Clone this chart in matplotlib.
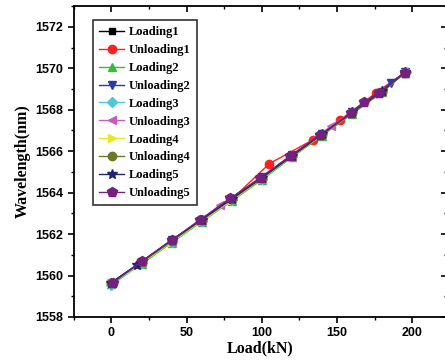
import numpy as np
import matplotlib.pyplot as plt
from matplotlib.ticker import MultipleLocator

# ---- data ----
labels = ['Loading1', 'Unloading1', 'Loading2', 'Unloading2', 'Loading3',
          'Unloading3', 'Loading4', 'Unloading4', 'Loading5', 'Unloading5']

x_load1 = [0, 20, 40, 60, 80, 100, 120, 140, 160, 180, 195]
y_load1 = [1559.65, 1560.62, 1561.65, 1562.66, 1563.66, 1564.70, 1565.76, 1566.80, 1567.85, 1568.88, 1569.78]

x_unload1 = [195, 176, 152, 134, 105, 80, 60, 40, 18, 0]
y_unload1 = [1569.80, 1568.82, 1567.50, 1566.55, 1565.40, 1563.68, 1562.70, 1561.66, 1560.55, 1559.62]

x_load2 = [0, 20, 40, 60, 80, 100, 120, 140, 160, 180, 195]
y_load2 = [1559.60, 1560.55, 1561.58, 1562.60, 1563.60, 1564.62, 1565.70, 1566.75, 1567.80, 1568.85, 1569.78]

x_unload2 = [195, 186, 160, 140, 120, 100, 80, 60, 40, 20, 0]
y_unload2 = [1569.80, 1569.30, 1567.90, 1566.85, 1565.80, 1564.75, 1563.70, 1562.68, 1561.72, 1560.66, 1559.65]

x_load3 = [0, 20, 40, 60, 80, 100, 120, 140, 160, 180, 196]
y_load3 = [1559.52, 1560.60, 1561.62, 1562.65, 1563.65, 1564.68, 1565.75, 1566.85, 1567.88, 1568.90, 1569.82]

x_unload3 = [195, 180, 146, 120, 100, 72, 60, 40, 20, 0]
y_unload3 = [1569.78, 1568.90, 1567.20, 1565.78, 1564.72, 1563.40, 1562.68, 1561.68, 1560.65, 1559.66]

x_load4 = [0, 20, 40, 60, 80, 100, 120, 140, 160, 180, 195]
y_load4 = [1559.62, 1560.60, 1561.63, 1562.64, 1563.64, 1564.68, 1565.74, 1566.78, 1567.84, 1568.86, 1569.76]

x_unload4 = [195, 180, 160, 140, 120, 100, 80, 60, 40, 20, 0]
y_unload4 = [1569.78, 1568.85, 1567.82, 1566.80, 1565.76, 1564.70, 1563.68, 1562.68, 1561.66, 1560.64, 1559.64]

x_load5 = [0, 17, 40, 60, 80, 100, 120, 140, 160, 180, 195]
y_load5 = [1559.66, 1560.52, 1561.70, 1562.70, 1563.70, 1564.72, 1565.78, 1566.82, 1567.88, 1568.90, 1569.80]

x_unload5 = [195, 178, 168, 159, 139, 119, 99, 79, 59, 40, 20, 1]
y_unload5 = [1569.78, 1568.82, 1568.35, 1567.82, 1566.80, 1565.78, 1564.72, 1563.72, 1562.70, 1561.70, 1560.68, 1559.66]

xs = [x_load1, x_unload1, x_load2, x_unload2, x_load3,
      x_unload3, x_load4, x_unload4, x_load5, x_unload5]
ys = [y_load1, y_unload1, y_load2, y_unload2, y_load3,
      y_unload3, y_load4, y_unload4, y_load5, y_unload5]

colors = ['#000000', '#ff2020', '#3cb83c', '#2a3aa8', '#4cc8dc',
          '#c85ac0', '#e8e820', '#6b7a24', '#23236e', '#74207e']
markers = ['s', 'o', '^', 'v', 'D', '<', '>', 'o', '*', 'p']
msizes = [5, 6, 6, 6, 5, 6, 6, 6, 7, 7]

# ---- plot ----
fig = plt.figure(figsize=(4.45, 3.61), dpi=100)
ax = fig.add_axes([0.166, 0.122, 0.838, 0.861])

for x, y, c, m, ms, lab in zip(xs, ys, colors, markers, msizes, labels):
    ax.plot(x, y, color=c, lw=1.0, marker=m, ms=ms, mec=c, mfc=c, label=lab)

ax.set_xlim(-25, 223)
ax.set_ylim(1558, 1573)
ax.xaxis.set_major_locator(MultipleLocator(50))
ax.xaxis.set_minor_locator(MultipleLocator(25))
ax.yaxis.set_major_locator(MultipleLocator(2))
ax.yaxis.set_minor_locator(MultipleLocator(1))
ax.set_xticks([0, 50, 100, 150, 200])
ax.tick_params(which='major', direction='out', length=4, width=1.2,
               labelsize=9, top=True, right=True)
ax.tick_params(which='minor', direction='out', length=2.5, width=1.0,
               top=True, right=True)
# ticks on top/right point inward like Origin
for t in ax.xaxis.get_ticklines(minor=False)[1::2] + ax.xaxis.get_ticklines(minor=True)[1::2]:
    t.set_marker(3)
for t in ax.yaxis.get_ticklines(minor=False)[1::2] + ax.yaxis.get_ticklines(minor=True)[1::2]:
    t.set_marker(0)
for lbl in ax.get_xticklabels() + ax.get_yticklabels():
    lbl.set_family('Liberation Sans')
    lbl.set_fontweight('bold')
for s in ax.spines.values():
    s.set_linewidth(1.3)

ax.set_xlabel('Load(kN)', family='Liberation Serif', fontweight='bold', fontsize=11.5, labelpad=1)
ax.set_ylabel('Wavelength(nm)', family='Liberation Serif', fontweight='bold', fontsize=11.5, labelpad=3)

leg = ax.legend(loc='upper left', bbox_to_anchor=(0.051, 0.955),
                prop={'family': 'Liberation Serif', 'weight': 'bold', 'size': 9},
                frameon=True, fancybox=False, edgecolor='black',
                handlelength=2.0, handletextpad=0.4, labelspacing=0.47,
                borderpad=0.5, borderaxespad=0)
leg.get_frame().set_linewidth(1.2)

plt.savefig('out.png', dpi=100)
